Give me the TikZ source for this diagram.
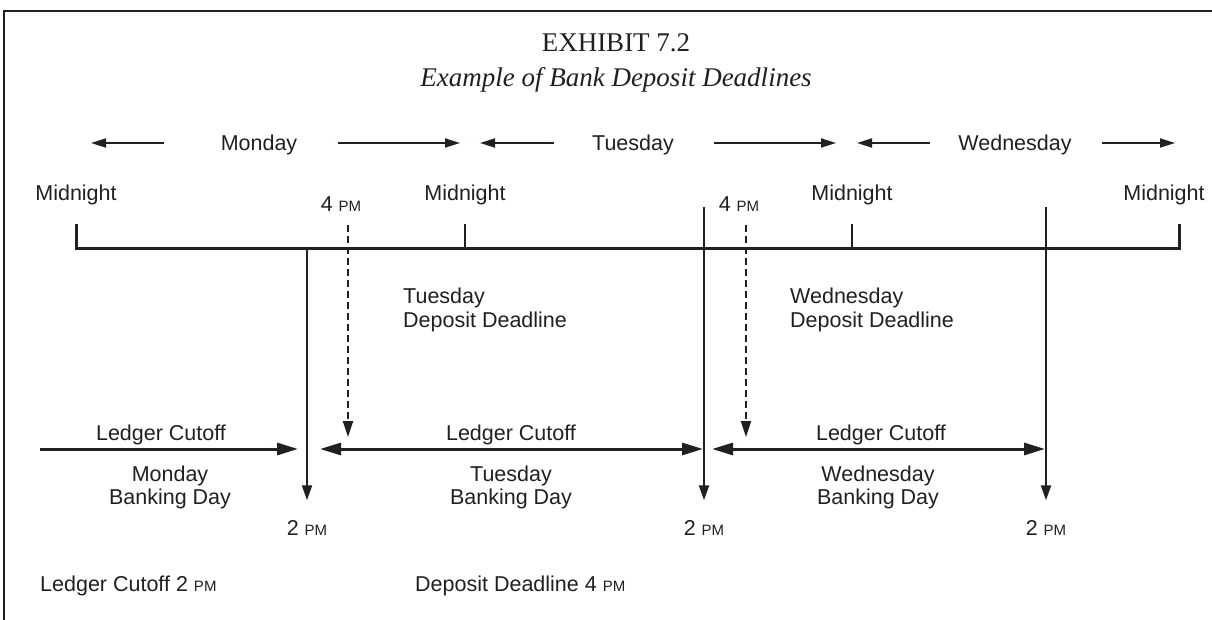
\documentclass[tikz,border=0pt]{standalone}
\usepackage{fontspec}
\setmainfont{Liberation Serif}
\newfontfamily\labelfont{Liberation Sans}
\usetikzlibrary{arrows.meta}
\definecolor{ink}{HTML}{231F20}
% small-capital style "PM"
\newcommand\smallpm{{\fontsize{15}{15}\selectfont PM}}

\begin{document}
\begin{tikzpicture}[x=1pt,y=-1pt,
  every node/.style={inner sep=0pt, text=ink},
  lbl/.style={font=\labelfont\fontsize{21.5}{24}\selectfont, anchor=base},
  lblw/.style={lbl, anchor=base west},
  headline/.style={font=\fontsize{27}{30}\selectfont, anchor=base},
  dayarrow/.style={draw=ink, line width=1.8pt, -{Triangle[length=15pt,width=9pt]}},
  ledger/.style={draw=ink, line width=3pt, -{Triangle[length=21pt,width=12pt]}},
  ledgerboth/.style={ledger, {Triangle[length=21pt,width=12pt]}-{Triangle[length=21pt,width=12pt]}},
  drop/.style={draw=ink, line width=2pt, -{Triangle[length=15pt,width=10pt]}},
  deadline/.style={draw=ink, line width=2pt, dash pattern=on 7pt off 4pt, -{Triangle[length=16pt,width=10pt]}},
  timeline/.style={draw=ink, line width=3pt, line join=miter},
  tick/.style={draw=ink, line width=2.5pt}
]
\useasboundingbox (0,0) rectangle (1212,620);

% open frame: left and top rules
\draw[ink, line width=2pt] (4,620) |- (1212,11);

% heading
\node[headline] (title) at (616,52) {EXHIBIT 7.2};
\node[headline, font=\itshape\fontsize{27}{30}\selectfont] (subtitle) at (616,87) {Example of Bank Deposit Deadlines};

% day spans
\node[lbl] (mon) at (259,150.5) {Monday};
\node[lbl] (tue) at (633,150.5) {Tuesday};
\node[lbl] (wed) at (1015,150.5) {Wednesday};
\coordinate (monL0) at (164,143); \coordinate (monL1) at (91,143);
\coordinate (monR0) at (338,143); \coordinate (monR1) at (460,143);
\coordinate (tueL0) at (554,143); \coordinate (tueL1) at (480,143);
\coordinate (tueR0) at (714,143); \coordinate (tueR1) at (836,143);
\coordinate (wedL0) at (930,143); \coordinate (wedL1) at (857,143);
\coordinate (wedR0) at (1102,143); \coordinate (wedR1) at (1175,143);
\foreach \a in {monL,monR,tueL,tueR,wedL,wedR}
  \draw[dayarrow] (\a0) -- (\a1);

% midnight marks
\node[lbl] (mid1) at (76,200.5) {Midnight};
\node[lbl] (mid2) at (465,200.5) {Midnight};
\node[lbl] (mid3) at (852,200.5) {Midnight};
\node[lbl] (mid4) at (1164,200.5) {Midnight};
\coordinate (t1) at (76,224);  \coordinate (b1) at (76,249);
\coordinate (t2) at (465,224); \coordinate (b2) at (465,249);
\coordinate (t3) at (852,224); \coordinate (b3) at (852,249);
\coordinate (t4) at (1179,224); \coordinate (b4) at (1179,249);
\draw[timeline] (t1) -- (b1) -- (b4) -- (t4);
\draw[tick] (t2) -- (b2);
\draw[tick] (t3) -- (b3);

% 4 PM deposit deadlines
\node[lbl] (fourA) at (341,211.5) {4 \smallpm};
\node[lbl] (fourB) at (739,211.5) {4 \smallpm};
\coordinate (dA0) at (348,225); \coordinate (dA1) at (348,437);
\coordinate (dB0) at (746,225); \coordinate (dB1) at (746,437);
\draw[deadline] (dA0) -- (dA1);
\draw[deadline] (dB0) -- (dB1);
\node[lblw] (tueDD1) at (403,303.5) {Tuesday};
\node[lblw] (tueDD2) at (403,327.5) {Deposit Deadline};
\node[lblw] (wedDD1) at (790,303.5) {Wednesday};
\node[lblw] (wedDD2) at (790,327.5) {Deposit Deadline};

% 2 PM ledger cutoffs
\node[lbl] (twoA) at (307,535.5) {2 \smallpm};
\node[lbl] (twoB) at (704,535.5) {2 \smallpm};
\node[lbl] (twoC) at (1046,535.5) {2 \smallpm};
\coordinate (cA) at (307,249);
\coordinate (cB) at (704,207);
\coordinate (cC) at (1046,207);
\draw[drop, shorten >=20pt] (cA) -- (twoA.north);
\draw[drop, shorten >=20pt] (cB) -- (twoB.north);
\draw[drop, shorten >=20pt] (cC) -- (twoC.north);

% ledger cutoff spans
\coordinate (lA0) at (40,449);  \coordinate (lA1) at (298,449);
\coordinate (lB0) at (320,449); \coordinate (lB1) at (703,449);
\coordinate (lC0) at (712,449); \coordinate (lC1) at (1045,449);
\draw[ledger] (lA0) -- (lA1);
\draw[ledgerboth] (lB0) -- (lB1);
\draw[ledgerboth] (lC0) -- (lC1);
\node[lbl] (lcA) at (161,440.5) {Ledger Cutoff};
\node[lbl] (lcB) at (511,440.5) {Ledger Cutoff};
\node[lbl] (lcC) at (881,440.5) {Ledger Cutoff};
\node[lbl] (bdA1) at (170,481.5) {Monday};
\node[lbl] (bdA2) at (170,504.5) {Banking Day};
\node[lbl] (bdB1) at (511,481.5) {Tuesday};
\node[lbl] (bdB2) at (511,504.5) {Banking Day};
\node[lbl] (bdC1) at (878,481.5) {Wednesday};
\node[lbl] (bdC2) at (878,504.5) {Banking Day};

% key
\node[lblw] (keyA) at (40,591.5) {Ledger Cutoff 2 \smallpm};
\node[lblw] (keyB) at (415,591.5) {Deposit Deadline 4 \smallpm};
\end{tikzpicture}
\end{document}
